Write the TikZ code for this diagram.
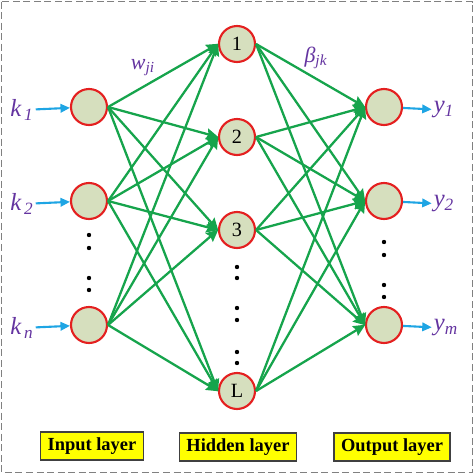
\documentclass[tikz,border=0pt]{standalone}
\usepackage{fontspec}
\setmainfont{Liberation Serif}
\usetikzlibrary{arrows.meta}
\definecolor{nfill}{RGB}{214,223,190}
\definecolor{nred}{RGB}{228,32,32}
\definecolor{egrn}{RGB}{22,164,76}
\definecolor{iblu}{RGB}{30,165,228}
\definecolor{lpur}{RGB}{100,52,160}
\definecolor{lyel}{RGB}{255,255,0}
\tikzset{
  neu/.style={circle,draw=nred,line width=1.2pt,fill=nfill,minimum size=0.72cm,
              inner sep=0pt,font=\fontsize{11.5}{12}\selectfont},
  ear/.style={-{Stealth[length=2.4mm,width=2.2mm,inset=0.3mm]},egrn,line width=1.3pt,
              shorten >=-0.3pt},
  bar/.style={-{Triangle[length=1.9mm,width=1.7mm]},iblu,line width=1.2pt},
  vlab/.style={font=\fontsize{14}{15}\selectfont\itshape,text=lpur,inner sep=1pt},
  wlab/.style={font=\fontsize{12.5}{13}\selectfont\itshape,text=lpur,inner sep=1pt},
  lay/.style={draw=black!75,line width=0.9pt,fill=lyel,minimum height=0.56cm,
              inner xsep=4pt,font=\fontsize{10.5}{12}\selectfont\bfseries},
  dt/.style={circle,fill=black,inner sep=0pt,minimum size=2.5pt},
}

\begin{document}
\begin{tikzpicture}[x=0.02cm,y=-0.02cm]
  \useasboundingbox (0,0) rectangle (474,474);
  \draw[black!50,line width=1pt,dash pattern=on 4pt off 2pt] (1.5,1.5) rectangle (472.5,472.5);
  % input layer
  \node[neu] (in1) at (89,107) {};
  \node[neu] (in2) at (89,201) {};
  \node[neu] (in3) at (89,325) {};
  % hidden layer
  \node[neu] (h1) at (237,44) {1};
  \node[neu] (h2) at (237,137) {2};
  \node[neu] (h3) at (237,230) {3};
  \node[neu] (hL) at (237,391) {L};
  % output layer
  \node[neu] (out1) at (384,107) {};
  \node[neu] (out2) at (384,201) {};
  \node[neu] (out3) at (384,325) {};
  \foreach \a in {in1,in2,in3}
    \foreach \b in {h1,h2,h3,hL}
      \draw[ear] (\a.east)--(\b.west);
  \foreach \a in {h1,h2,h3,hL}
    \foreach \b in {out1,out2,out3}
      \draw[ear] (\a.east)--(\b.west);
  % inputs and outputs
  \node[vlab] (k1) at (22,110) {k\textsubscript{\,1}};
  \node[vlab] (k2) at (22,204) {k\textsubscript{\,2}};
  \node[vlab] (kn) at (22,328) {k\textsubscript{\,n}};
  \node[vlab] (y1) at (444,110) {y\textsubscript{1}};
  \node[vlab] (y2) at (444,204) {y\textsubscript{2}};
  \node[vlab] (ym) at (446,328) {y\textsubscript{m}};
  \draw[bar] (k1)--(in1);
  \draw[bar] (k2)--(in2);
  \draw[bar] (kn)--(in3);
  \draw[bar] (out1)--(y1);
  \draw[bar] (out2)--(y2);
  \draw[bar] (out3)--(ym);
  \node[wlab] (wji) at (143,68) {w\textsubscript{ji}};
  \node[wlab] (bjk) at (316,58) {β\textsubscript{jk}};
  % dots
  \foreach \y in {235,248,278,290} \node[dt] at (89,\y) {};
  \foreach \y in {267,278,308,320,352,363} \node[dt] at (237,\y) {};
  \foreach \y in {242,255,285,297} \node[dt] at (384,\y) {};
  % layer names
  \node[lay] (tin) at (92,446) {Input layer};
  \node[lay] (thid) at (238,447) {Hidden layer};
  \node[lay] (tout) at (392,447) {Output layer};
\end{tikzpicture}
\end{document}
